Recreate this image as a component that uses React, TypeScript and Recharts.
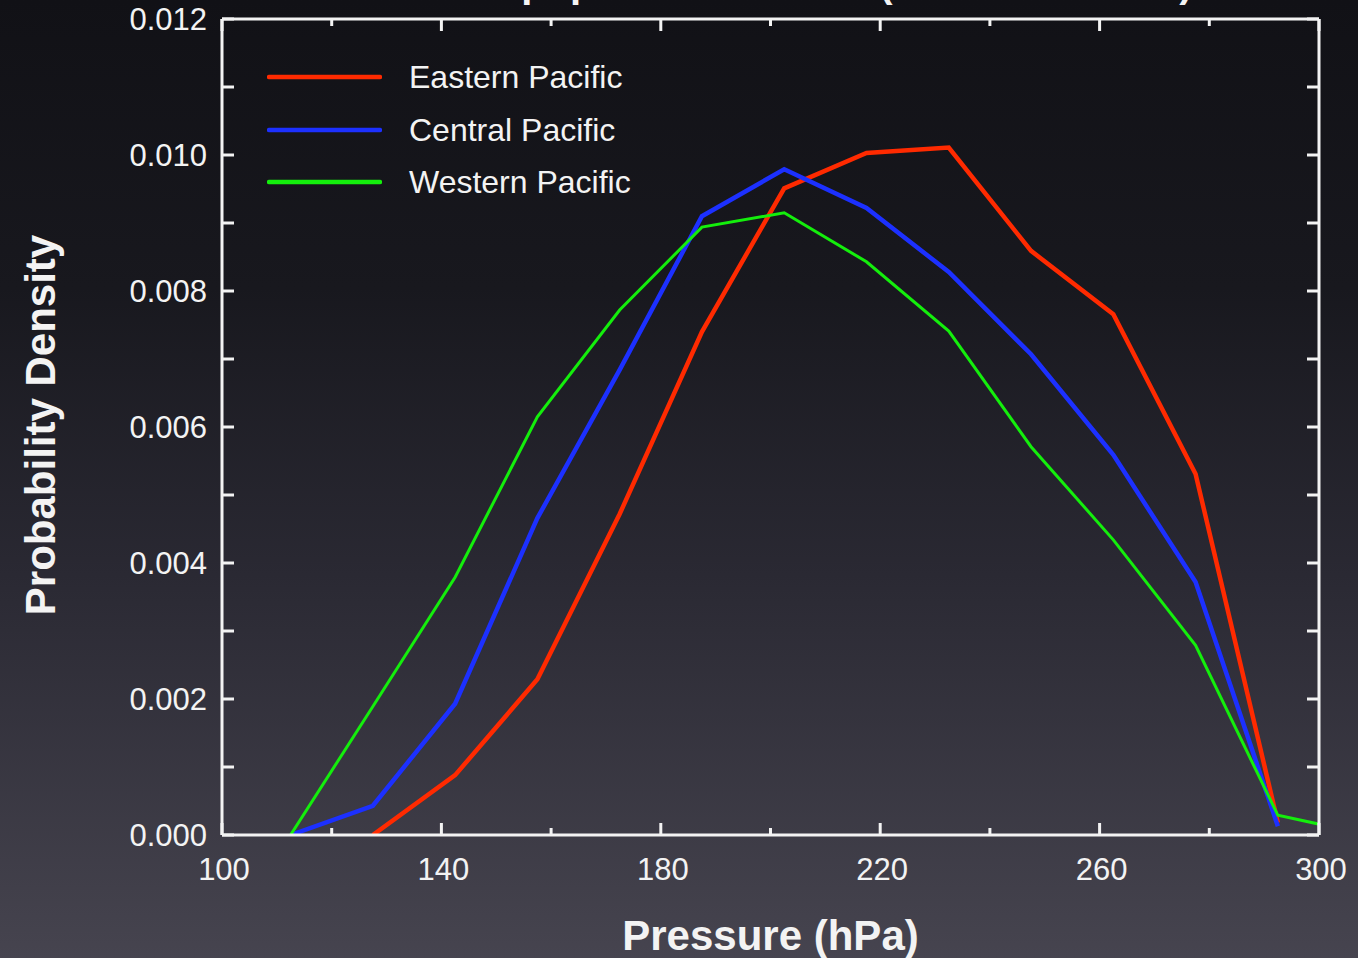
import { LineChart, Line, XAxis, YAxis, Legend, Label } from 'recharts';

// bin centres (hPa)
const pressure = [112.5, 127.5, 142.5, 157.5, 172.5, 187.5, 202.5, 217.5, 232.5, 247.5, 262.5, 277.5, 292.5, 307.5];
const eastern = [null, 0, 0.00088, 0.00229, 0.00472, 0.0074, 0.00951, 0.01003, 0.01011, 0.00859, 0.00766, 0.00531, 0.00018, null];
const central = [0, 0.00043, 0.00193, 0.00466, 0.00684, 0.0091, 0.00979, 0.00922, 0.00828, 0.00707, 0.00559, 0.00372, 0.00013, null];
const western = [0, 0.00189, 0.00379, 0.00615, 0.00772, 0.00894, 0.00915, 0.00843, 0.00741, 0.00571, 0.00434, 0.00279, 0.00029, 0.00003];

const seriesNames = ['Eastern Pacific', 'Central Pacific', 'Western Pacific'];
const xTicks = [100, 120, 140, 160, 180, 200, 220, 240, 260, 280, 300];
const yTicks = [0, 0.001, 0.002, 0.003, 0.004, 0.005, 0.006, 0.007, 0.008, 0.009, 0.01, 0.011, 0.012];

const data = pressure.map((p, i) => ({ p, east: eastern[i], central: central[i], west: western[i] }));

const FONT = '"Liberation Sans", Arial, Helvetica, sans-serif';
const INK = '#f3f3f3';

function XTick({ x, y, payload, side }: any) {
  const v = payload.value;
  const major = (v - 100) % 40 === 0;
  const len = major ? 12 : 7;
  const dir = side === 'bottom' ? -1 : 1;
  return (
    <g>
      <line x1={x} x2={x} y1={y} y2={y + dir * len} stroke={INK} strokeWidth={3} />
      {side === 'bottom' && major && (
        <text x={x + 2} y={y + 45} textAnchor="middle" fill={INK} fontSize={31} fontFamily={FONT}>{v}</text>
      )}
    </g>
  );
}

function YTick({ x, y, payload, side }: any) {
  const v = payload.value;
  const major = Math.round(v * 1000) % 2 === 0;
  const len = 12;
  const dir = side === 'left' ? 1 : -1;
  return (
    <g>
      <line x1={x} x2={x + dir * len} y1={y} y2={y} stroke={INK} strokeWidth={3} />
      {side === 'left' && major && (
        <text x={x - 15} y={y + 11} textAnchor="end" fill={INK} fontSize={31} fontFamily={FONT}>{v.toFixed(3)}</text>
      )}
    </g>
  );
}

function LegendBox({ payload }: any) {
  const items = [...(payload || [])].sort(
    (a: any, b: any) => seriesNames.indexOf(a.value) - seriesNames.indexOf(b.value),
  );
  return (
    <div style={{ fontFamily: FONT, color: INK, fontSize: 32 }}>
      {items.map((e: any) => (
        <div key={e.value} style={{ display: 'flex', alignItems: 'center', height: 52.5 }}>
          <svg width={115} height={8} style={{ display: 'block' }}>
            <line x1={2} x2={113} y1={4} y2={4} stroke={e.color} strokeWidth={4.5} strokeLinecap="round" />
          </svg>
          <span style={{ marginLeft: 27, lineHeight: '32px' }}>{e.value}</span>
        </div>
      ))}
    </div>
  );
}

export default function App() {
  return (
    <div
      style={{
        position: 'fixed', left: 0, top: 0, width: 1358, height: 958,
        background: 'linear-gradient(180deg, #111116 0%, #18181e 30%, #2a2933 60%, #46444f 100%)',
      }}
    >
      <LineChart width={1358} height={958} data={data} margin={{ top: 0, right: 0, bottom: 0, left: 0 }}>
        <XAxis
          dataKey="p" type="number" domain={[100, 300]} ticks={xTicks} interval={0} allowDataOverflow
          height={123} tickSize={0} tickMargin={0}
          axisLine={{ stroke: INK, strokeWidth: 3 }}
          tick={(p: any) => <XTick x={p.x} y={p.y} payload={p.payload} side="bottom" />}
        >
          <Label
            content={({ viewBox }: any) => (
              <text x={viewBox.x + viewBox.width / 2} y={viewBox.y + 115} textAnchor="middle"
                fill={INK} fontSize={42} fontWeight="bold" fontFamily={FONT}>Pressure (hPa)</text>
            )}
          />
        </XAxis>
        <XAxis
          xAxisId="top" orientation="top" dataKey="p" type="number" domain={[100, 300]} ticks={xTicks}
          interval={0} allowDataOverflow height={19} tickSize={0} tickMargin={0}
          axisLine={{ stroke: INK, strokeWidth: 3 }}
          tick={(p: any) => <XTick x={p.x} y={p.y} payload={p.payload} side="top" />}
        >
          <Label
            content={() => (
              <text x={459} y={-3} textAnchor="start" fill={INK} fontSize={40} fontWeight="bold"
                fontFamily={FONT}>Tropopause Pressure (DJF 2001–2008)</text>
            )}
          />
        </XAxis>
        <YAxis
          type="number" domain={[0, 0.012]} ticks={yTicks} interval={0} allowDataOverflow
          width={222} tickSize={0} tickMargin={0}
          axisLine={{ stroke: INK, strokeWidth: 3 }}
          tick={(p: any) => <YTick x={p.x} y={p.y} payload={p.payload} side="left" />}
        >
          <Label
            content={({ viewBox }: any) => {
              const cx = 55;
              const cy = viewBox.y + viewBox.height / 2 - 2;
              return (
                <text x={cx} y={cy} transform={`rotate(-90, ${cx}, ${cy})`} textAnchor="middle"
                  fill={INK} fontSize={42} fontWeight="bold" fontFamily={FONT}>Probability Density</text>
              );
            }}
          />
        </YAxis>
        <YAxis
          yAxisId="right" orientation="right" type="number" domain={[0, 0.012]} ticks={yTicks}
          interval={0} allowDataOverflow width={39} tickSize={0} tickMargin={0}
          axisLine={{ stroke: INK, strokeWidth: 3 }}
          tick={(p: any) => <YTick x={p.x} y={p.y} payload={p.payload} side="right" />}
        />
        <Legend
          layout="vertical" align="center" verticalAlign="middle"
          wrapperStyle={{ left: 267, top: 51, width: 'auto' }}
          content={(props: any) => <LegendBox payload={props.payload} />}
        />
        <Line name="Eastern Pacific" dataKey="east" type="linear" stroke="#ff2a00" strokeWidth={4.5}
          dot={false} activeDot={false} isAnimationActive={false} />
        <Line name="Central Pacific" dataKey="central" type="linear" stroke="#1c30ff" strokeWidth={4.5}
          dot={false} activeDot={false} isAnimationActive={false} />
        <Line name="Western Pacific" dataKey="west" type="linear" stroke="#14ee0c" strokeWidth={3}
          dot={false} activeDot={false} isAnimationActive={false} />
      </LineChart>
    </div>
  );
}
